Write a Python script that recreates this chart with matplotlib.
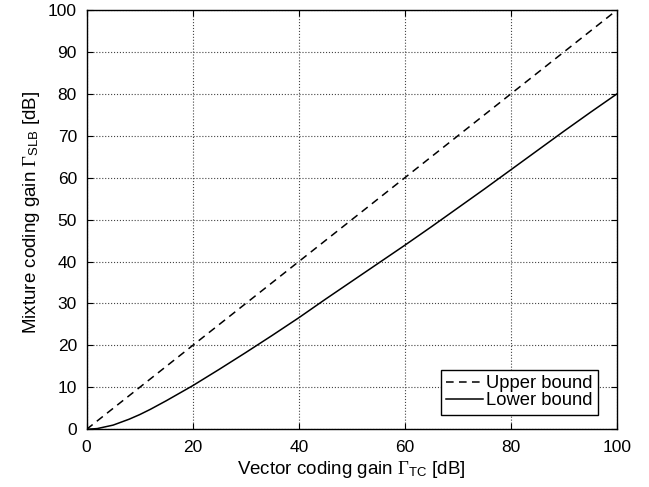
import matplotlib
matplotlib.use("Agg")
import matplotlib.pyplot as plt
import numpy as np

plt.rcParams['font.family'] = ['Liberation Sans', 'DejaVu Sans']
plt.rcParams['mathtext.fontset'] = 'custom'
plt.rcParams['mathtext.rm'] = 'Liberation Serif'
plt.rcParams['mathtext.sf'] = 'Liberation Sans'
plt.rcParams['mathtext.it'] = 'Liberation Serif:italic'

x_upper = [0, 100]
y_upper = [0, 100]

x_lower = [0, 2, 5, 8, 10, 12, 15, 17.5, 20, 25, 30, 35, 40, 45, 50,
           55, 60, 65, 70, 75, 80, 85, 90, 95, 100]
y_lower = [0, 0.17, 1.0, 2.4, 3.5, 4.75, 6.8, 8.6, 10.4, 14.3, 18.3, 22.4, 26.6,
           31.0, 35.3, 39.6, 43.9, 48.3, 52.8, 57.3, 61.9, 66.5, 71.1, 75.6, 80.0]

xticks = [0, 20, 40, 60, 80, 100]
yticks = [0, 10, 20, 30, 40, 50, 60, 70, 80, 90, 100]

fig = plt.figure(figsize=(6.49, 4.87), dpi=100)
ax = fig.add_axes([0.1335, 0.1185, 0.8172, 0.8610])

ax.plot(x_upper, y_upper, 'k--', lw=1.1, dashes=(5, 3.5), label='Upper bound')
ax.plot(x_lower, y_lower, 'k-', lw=1.1, label='Lower bound')

ax.set_xlim(0, 100)
ax.set_ylim(0, 100)
ax.set_xticks(xticks)
ax.set_yticks(yticks)
ax.tick_params(direction='in', top=True, right=True, labelsize=12.5, length=4)
ax.tick_params(axis='x', pad=7.5)
ax.tick_params(axis='y', pad=7)
ax.grid(True, linestyle=':', color='#444444', lw=0.8)
for s in ax.spines.values():
    s.set_linewidth(1.0)

ax.set_xlabel(r'Vector coding gain $\Gamma_{\mathsf{TC}}$ [dB]', fontsize=13.5)
ax.set_ylabel(r'Mixture coding gain $\Gamma_{\mathsf{SLB}}$ [dB]', fontsize=13.5)
ax.xaxis.set_label_coords(0.5, -0.072)
ax.yaxis.set_label_coords(-0.085, 0.518)

leg = ax.legend(loc='lower right', bbox_to_anchor=(0.964, 0.035), fontsize=13.2,
                frameon=True, fancybox=False, edgecolor='black', framealpha=1,
                borderpad=0.3, handlelength=2.0, handletextpad=0.15,
                labelspacing=0.0, borderaxespad=0)
leg.get_frame().set_linewidth(1.0)

fig.savefig('out.png', dpi=100)
